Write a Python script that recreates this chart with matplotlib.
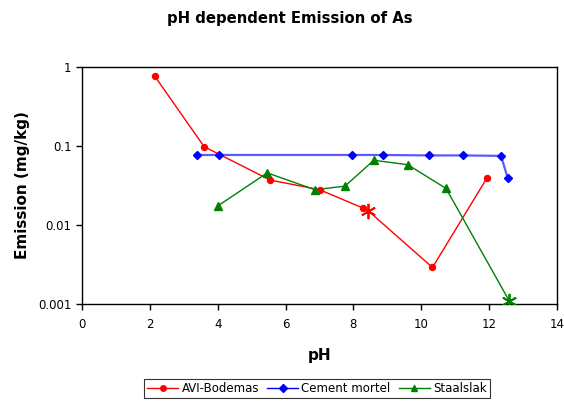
import matplotlib
matplotlib.use("Agg")
import matplotlib.pyplot as plt
from matplotlib.ticker import FixedLocator, FixedFormatter, NullLocator
from matplotlib.lines import Line2D

# Data
avi_ph = [2.14, 3.6, 5.55, 7.0, 8.28, 8.43, 10.33, 11.93]
avi_em = [0.77, 0.098, 0.037, 0.028, 0.0164, 0.0152, 0.0029, 0.039]
avi_star = [False, False, False, False, False, True, False, False]

cem_ph = [3.38, 4.04, 7.95, 8.87, 10.24, 11.22, 12.35, 12.55]
cem_em = [0.077, 0.077, 0.077, 0.077, 0.076, 0.076, 0.075, 0.039]

sta_ph = [4.0, 5.46, 6.86, 7.75, 8.6, 9.6, 10.73, 12.6]
sta_em = [0.0174, 0.0457, 0.028, 0.031, 0.066, 0.058, 0.029, 0.00108]
sta_star = [False, False, False, False, False, False, False, True]

yticks = [0.001, 0.01, 0.1, 1]
ytick_labels = ["0.001", "0.01", "0.1", "1"]
xticks = [0, 2, 4, 6, 8, 10, 12, 14]

plt.rcParams['font.family'] = ['DejaVu Sans']

fig = plt.figure(figsize=(5.64, 4.03), dpi=100)
ax = fig.add_axes([82/564, 1-304/403, (557-82)/564, (304-67)/403])

def split(xs, ys, flags):
    nx = [x for x, f in zip(xs, flags) if not f]
    ny = [y for y, f in zip(ys, flags) if not f]
    sx = [x for x, f in zip(xs, flags) if f]
    sy = [y for y, f in zip(ys, flags) if f]
    return nx, ny, sx, sy

# AVI-Bodemas
ax.plot(avi_ph, avi_em, color='#ff0000', lw=1.0, zorder=3)
nx, ny, sx, sy = split(avi_ph, avi_em, avi_star)
ax.plot(nx, ny, ls='none', marker='o', ms=4.3, color='#ff0000', zorder=4)
ax.plot(sx, sy, ls='none', marker=(6, 2, 0), ms=11, mew=1.3, color='#ff0000', zorder=4)

# Cement mortel
ax.plot(cem_ph, cem_em, color='#5a5aff', lw=1.6, zorder=2)
ax.plot(cem_ph, cem_em, ls='none', marker='D', ms=4.3, color='#0000ff', zorder=4)

# Staalslak
ax.plot(sta_ph, sta_em, color='#008000', lw=1.0, zorder=3)
nx, ny, sx, sy = split(sta_ph, sta_em, sta_star)
ax.plot(nx, ny, ls='none', marker='^', ms=5.3, color='#008000', zorder=4)
ax.plot(sx, sy, ls='none', marker=(6, 2, 0), ms=11, mew=1.3, color='#008000', zorder=4)

ax.set_yscale('log')
ax.set_xlim(0, 14)
ax.set_ylim(0.001, 1)
ax.yaxis.set_major_locator(FixedLocator(yticks))
ax.yaxis.set_major_formatter(FixedFormatter(ytick_labels))
ax.yaxis.set_minor_locator(NullLocator())
ax.set_xticks(xticks)
ax.set_xticklabels([str(x) for x in xticks])
ax.tick_params(axis='both', labelsize=8.5, length=4, width=1, color='black')
ax.tick_params(axis='x', pad=6)
for s in ax.spines.values():
    s.set_color('black')
    s.set_linewidth(1.0)

ax.set_xlabel('pH', fontsize=11, fontweight='bold', labelpad=12)
ax.set_ylabel('Emission (mg/kg)', fontsize=11, fontweight='bold', labelpad=6)
fig.text(290/564, 1-18/403, 'pH dependent Emission of As', fontsize=10.7,
         fontweight='bold', ha='center', va='center')

handles = [
    Line2D([], [], color='#ff0000', lw=1, marker='o', ms=4),
    Line2D([], [], color='#0000ff', lw=1, marker='D', ms=4),
    Line2D([], [], color='#008000', lw=1, marker='^', ms=4.5),
]
leg = fig.legend(handles, ['AVI-Bodemas', 'Cement mortel', 'Staalslak'],
                 loc='center', bbox_to_anchor=(317/564, 1-388.5/403), ncol=3,
                 fontsize=8.5, frameon=True, fancybox=False, edgecolor='black',
                 handlelength=2.6, handletextpad=0.3, columnspacing=0.7,
                 borderpad=0.25, borderaxespad=0)
leg.get_frame().set_linewidth(0.8)

fig.savefig('out.png', dpi=100)
